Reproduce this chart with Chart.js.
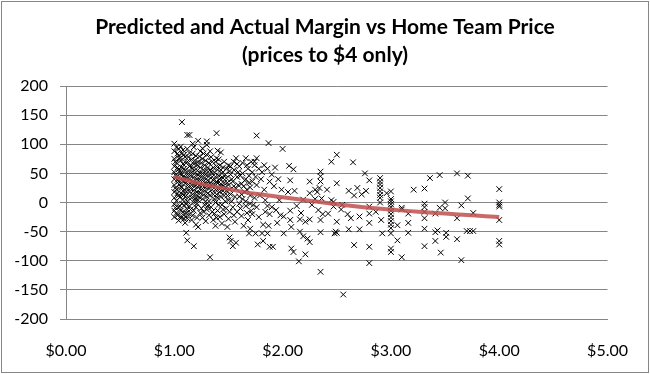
<!DOCTYPE html>
<html>
<head>
<meta charset="utf-8">
<script src="https://cdn.jsdelivr.net/npm/chart.js@4/dist/chart.umd.min.js"></script>
<style>
  html, body { margin: 0; padding: 0; background: #fff; }
  #wrap { width: 650px; height: 374px; }
</style>
</head>
<body>
<div id="wrap"><canvas id="marginChart" width="650" height="374"></canvas></div>
<script>
const titleLines = ['Predicted and Actual Margin vs Home Team Price', '(prices to $4 only)'];
const priceRange = [0, 5];
const marginRange = [-200, 200];

// actual margin per game: [home team price, margin]
const actualPoints = [
  [1.00, 101], [1.00, 88], [1.00, 75], [1.00, 62], [1.00, 52], [1.00, 40], [1.00, 30], [1.00, 18],
  [1.00, 8], [1.00, -3], [1.00, -14], [1.00, -25], [1.02, 95], [1.02, 68], [1.02, 45], [1.02, 22],
  [1.02, 3], [1.02, -18], [1.04, 92], [1.04, 80], [1.04, 57], [1.04, 36], [1.04, 12], [1.04, -8],
  [1.04, -31], [1.05, -6], [1.06, 96], [1.06, 72], [1.06, 50], [1.06, 27], [1.06, -24], [1.07, 138],
  [1.07, 84], [1.07, 60], [1.07, 38], [1.07, 15], [1.07, -2], [1.08, 90], [1.08, 66], [1.08, 44],
  [1.08, 20], [1.08, 5], [1.08, -16], [1.10, 78], [1.10, 55], [1.10, 33], [1.10, 10], [1.10, -24],
  [1.10, -35], [1.06, -27], [1.12, -27], [1.12, -12], [1.11, -52], [1.12, -65], [1.18, -75], [1.12, 116],
  [1.14, 116], [1.17, 101],
  [1.12, 92], [1.12, 70], [1.12, 48], [1.12, 25], [1.12, 2], [1.14, 85], [1.14, 62], [1.14, 40],
  [1.14, 18], [1.14, -6], [1.14, -20], [1.16, 74], [1.16, 52], [1.16, 30], [1.16, 8], [1.16, -30],
  [1.18, 95], [1.18, 66], [1.18, 43], [1.18, 21], [1.18, 0], [1.18, -14], [1.20, 80], [1.20, 57],
  [1.20, 34], [1.20, 12], [1.20, -8], [1.20, -38], [1.22, 106], [1.22, 70], [1.22, 47], [1.22, 26],
  [1.22, 4], [1.22, -42], [1.24, 88], [1.24, 60], [1.24, 38], [1.24, 16], [1.24, -18], [1.26, 93],
  [1.26, 75], [1.26, 50], [1.26, 29], [1.26, 6], [1.26, -26], [1.28, 64], [1.28, 42], [1.28, 20],
  [1.28, -4], [1.29, -32], [1.30, 105], [1.30, 99], [1.30, 82], [1.30, 55], [1.30, 33], [1.30, 10],
  [1.30, -12],
  [1.32, 68], [1.32, 45], [1.32, 24], [1.32, 2], [1.32, -22], [1.33, -94], [1.34, 78], [1.34, 52],
  [1.34, 30], [1.34, -8], [1.36, 60], [1.36, 38], [1.36, 14], [1.36, -30], [1.37, -19], [1.38, 70],
  [1.38, 44], [1.38, 22], [1.38, 0], [1.38, -40], [1.39, 119], [1.39, 76], [1.40, 89], [1.40, 56],
  [1.40, 33], [1.40, 8], [1.40, -14], [1.42, 64], [1.42, 40], [1.42, 18], [1.42, -25], [1.43, 86],
  [1.44, 50], [1.44, 27], [1.44, -4], [1.44, -36], [1.46, 70], [1.46, 34], [1.46, 12], [1.46, -20],
  [1.48, 58], [1.48, 42], [1.48, 20], [1.48, -10], [1.49, -42], [1.50, 64], [1.50, 30], [1.50, 4],
  [1.50, -28],
  [1.01, 70], [1.01, 47], [1.01, 25], [1.01, -9], [1.03, 84], [1.03, 60], [1.03, 39], [1.03, 16],
  [1.03, -22], [1.05, 76], [1.05, 54], [1.05, 31], [1.05, 9], [1.06, -14], [1.07, 48], [1.07, 26],
  [1.09, 82], [1.09, 58], [1.09, 36], [1.09, 13], [1.09, -5], [1.09, -28], [1.11, 68], [1.11, 42],
  [1.11, 19], [1.11, -3], [1.11, -18], [1.13, 78], [1.13, 54], [1.13, 31], [1.13, 9], [1.15, 64],
  [1.15, 46], [1.15, 24], [1.15, -12], [1.17, 84], [1.17, 58], [1.17, 36], [1.17, 14], [1.17, -22],
  [1.19, 72], [1.19, 50], [1.19, 28], [1.19, 6], [1.21, 64], [1.21, 40], [1.21, 18], [1.21, -2],
  [1.21, -26], [1.23, 79], [1.23, 52], [1.23, 30], [1.23, 9], [1.25, 68], [1.25, 44], [1.25, 22],
  [1.25, -10], [1.27, 84], [1.27, 56], [1.27, 36], [1.27, 13], [1.27, -16], [1.29, 72], [1.29, 48],
  [1.29, 26], [1.29, 2], [1.31, 60], [1.31, 38], [1.31, 16], [1.31, -6], [1.33, 88], [1.33, 56],
  [1.33, 34], [1.33, 12], [1.35, 70], [1.35, 44], [1.35, 22], [1.35, -16], [1.37, 52], [1.37, 30],
  [1.37, 6], [1.39, 62], [1.39, 36], [1.39, 14], [1.39, -26], [1.41, 74], [1.41, 46], [1.41, 24],
  [1.41, -4], [1.43, 56], [1.43, 32], [1.43, 10], [1.45, 60], [1.45, 42], [1.45, 20], [1.45, -12],
  [1.47, 48], [1.47, 26], [1.47, 2], [1.49, 34], [1.49, 12], [1.51, 54], [1.51, 22], [1.51, -16],
  [1.53, 40], [1.53, 2], [1.55, 28], [1.55, -22], [1.56, 10], [1.59, 52], [1.59, 30], [1.61, -10],
  [1.63, 6], [1.65, 38], [1.67, 22], [1.67, -18], [1.69, 46], [1.73, -4], [1.70, 12],
  [1.52, 62], [1.55, 70], [1.58, 66], [1.61, 46], [1.63, 68], [1.64, 28], [1.67, 64], [1.69, 34],
  [1.72, 52], [1.75, 44], [1.78, 58], [1.80, 40], [1.62, 14], [1.66, 2], [1.70, -2], [1.76, -8],
  [1.79, 12], [1.84, 4], [1.86, -6],
  [1.51, -60], [1.52, -66], [1.54, -75], [1.57, -69], [1.56, -33], [1.52, 48], [1.52, 14], [1.54, 36],
  [1.54, -8], [1.55, 56], [1.57, 76], [1.57, 24], [1.58, -16], [1.58, 44], [1.60, 62], [1.60, 10],
  [1.60, -2], [1.62, 32], [1.62, -23], [1.63, 50], [1.64, -40], [1.65, 18], [1.66, 76], [1.66, 40],
  [1.66, -6], [1.68, -30], [1.68, 58], [1.69, -53], [1.70, 26], [1.70, -45], [1.71, 70], [1.71, -14],
  [1.72, 36], [1.72, -20], [1.74, 70], [1.74, 64], [1.74, 8],
  [1.76, 115], [1.76, 76], [1.75, -53], [1.76, 30], [1.77, -72], [1.78, -25], [1.81, 52], [1.81, -53],
  [1.82, -66], [1.82, -38], [1.83, 64], [1.83, 22], [1.84, -16], [1.86, -53], [1.86, 58], [1.87, 102],
  [1.87, -40], [1.88, -76], [1.88, 36], [1.88, -20], [1.90, 48], [1.90, -8], [1.91, -76], [1.92, 28],
  [1.93, 60], [1.94, -13], [1.95, -35], [1.96, 40], [1.97, 4], [1.98, -22], [1.99, 22], [2.00, 92],
  [2.01, -53], [2.01, -24],
  [2.05, 18], [2.06, 63], [2.07, 38], [2.07, -30], [2.07, -14], [2.08, -42], [2.08, -79], [2.10, 57],
  [2.10, -85], [2.11, 20], [2.13, -6], [2.15, -101], [2.16, -29], [2.16, -50], [2.17, -18], [2.19, 5],
  [2.19, -58], [2.21, -33], [2.21, -89], [2.23, -62], [2.25, 36], [2.25, 16], [2.25, -29], [2.25, -68],
  [2.27, -4], [2.30, 22], [2.30, 6], [2.32, 18], [2.33, -13], [2.34, 25], [2.35, 53], [2.35, 45],
  [2.35, 36], [2.35, -30], [2.35, -51], [2.35, -119], [2.36, 7], [2.37, -20], [2.41, 22], [2.42, -19],
  [2.45, 70], [2.45, 4], [2.47, 1], [2.47, -7], [2.48, -53], [2.49, -50], [2.50, 82], [2.50, 33],
  [2.50, -33], [2.50, -52],
  [2.54, -12], [2.55, -4], [2.56, -158], [2.60, -20], [2.61, -46], [2.61, 20], [2.63, -27], [2.65, 69],
  [2.66, -73], [2.66, 12], [2.69, 25], [2.71, -24], [2.71, -46], [2.73, 14], [2.76, 50], [2.77, 20],
  [2.80, 38], [2.80, -7], [2.80, -19], [2.80, -35], [2.80, -76], [2.80, -104], [2.86, -16], [2.90, 42],
  [2.90, 36], [2.90, 31], [2.90, 25], [2.90, 19], [2.90, 13], [2.90, 8], [2.90, 0], [2.91, -30],
  [2.92, -53], [2.96, 16],
  [3.00, 19], [3.00, 6], [3.00, 2], [3.00, -3], [3.00, -8], [3.00, -14], [3.00, -20], [3.00, -26],
  [3.00, -32], [3.00, -38], [3.00, -44], [3.00, -53], [3.00, -79], [3.00, -85], [3.06, -39], [3.06, -65],
  [3.10, -12], [3.10, -94], [3.10, -9], [3.16, -19], [3.16, -35], [3.16, -52], [3.21, 22],
  [3.31, 24], [3.31, -2], [3.31, -8], [3.31, -16], [3.31, -27], [3.31, -45], [3.31, -75], [3.36, 42],
  [3.41, -19], [3.41, -51], [3.41, -66], [3.43, -48], [3.45, 47], [3.45, -9], [3.46, -86], [3.50, 0],
  [3.50, -10], [3.51, -52], [3.51, -59], [3.61, 50], [3.61, -27], [3.61, -63], [3.65, -5], [3.65, -99],
  [3.70, -49], [3.73, -49], [3.71, 46], [3.71, 7], [3.76, -49], [3.76, -18],
  [4.00, 23], [4.00, 0], [4.00, -4], [4.00, -7], [4.00, -30], [4.00, -66], [4.00, -72]
];

// predicted margin (fitted curve)
const trendPrice = [1.00, 1.25, 1.50, 1.75, 2.00, 2.25, 2.50, 2.75, 3.00, 3.25, 3.50, 3.75, 4.00];
const trendMargin = [44, 32, 23, 15, 9, 3, -3, -8, -12, -16, -19, -22, -25];

const gridColor = '#868686';

// outer frame and the two-line heading, centred on the whole canvas
const frameAndTitle = {
  id: 'frameAndTitle',
  afterDraw(chart) {
    const ctx = chart.ctx;
    ctx.save();
    ctx.strokeStyle = gridColor;
    ctx.lineWidth = 1;
    ctx.strokeRect(1.5, 1.5, chart.width - 3, chart.height - 3);
    ctx.fillStyle = '#000';
    ctx.font = 'bold 21px Lato';
    ctx.textAlign = 'center';
    ctx.textBaseline = 'middle';
    titleLines.forEach((line, i) => {
      ctx.fillText(line, chart.width / 2, 27 + i * 28);
    });
    ctx.restore();
  }
};

new Chart(document.getElementById('marginChart'), {
  type: 'scatter',
  data: {
    datasets: [
      {
        label: 'Actual',
        data: actualPoints.map((p) => ({ x: p[0], y: p[1] })),
        pointStyle: 'crossRot',
        pointRadius: 4,
        pointBorderColor: '#000',
        pointBorderWidth: 1,
        order: 2
      },
      {
        label: 'Predicted',
        type: 'line',
        data: trendPrice.map((x, i) => ({ x, y: trendMargin[i] })),
        borderColor: 'rgba(192, 80, 77, 0.85)',
        borderWidth: 4,
        pointRadius: 0,
        tension: 0.4,
        fill: false,
        order: 1
      }
    ]
  },
  options: {
    responsive: false,
    animation: false,
    devicePixelRatio: 1,
    layout: { padding: { left: 0, right: 38, top: 86, bottom: 0 } },
    plugins: {
      legend: { display: false },
      tooltip: { enabled: false },
      title: { display: false }
    },
    scales: {
      x: {
        type: 'linear',
        min: priceRange[0],
        max: priceRange[1],
        ticks: {
          stepSize: 1,
          color: '#000',
          padding: 22,
          font: { family: 'Lato', size: 16 },
          callback: (v) => '$' + Number(v).toFixed(2)
        },
        grid: { display: false, drawTicks: false },
        border: { display: true, color: gridColor },
        afterFit: (scale) => { scale.height = 55; }
      },
      y: {
        min: marginRange[0],
        max: marginRange[1],
        ticks: {
          stepSize: 50,
          color: '#000',
          padding: 12,
          font: { family: 'Lato', size: 16 }
        },
        grid: { color: gridColor, lineWidth: 1, drawTicks: true, tickLength: 6 },
        border: { display: true, color: gridColor },
        afterFit: (scale) => { scale.width = 66; }
      }
    }
  },
  plugins: [frameAndTitle]
});
</script>
</body>
</html>
